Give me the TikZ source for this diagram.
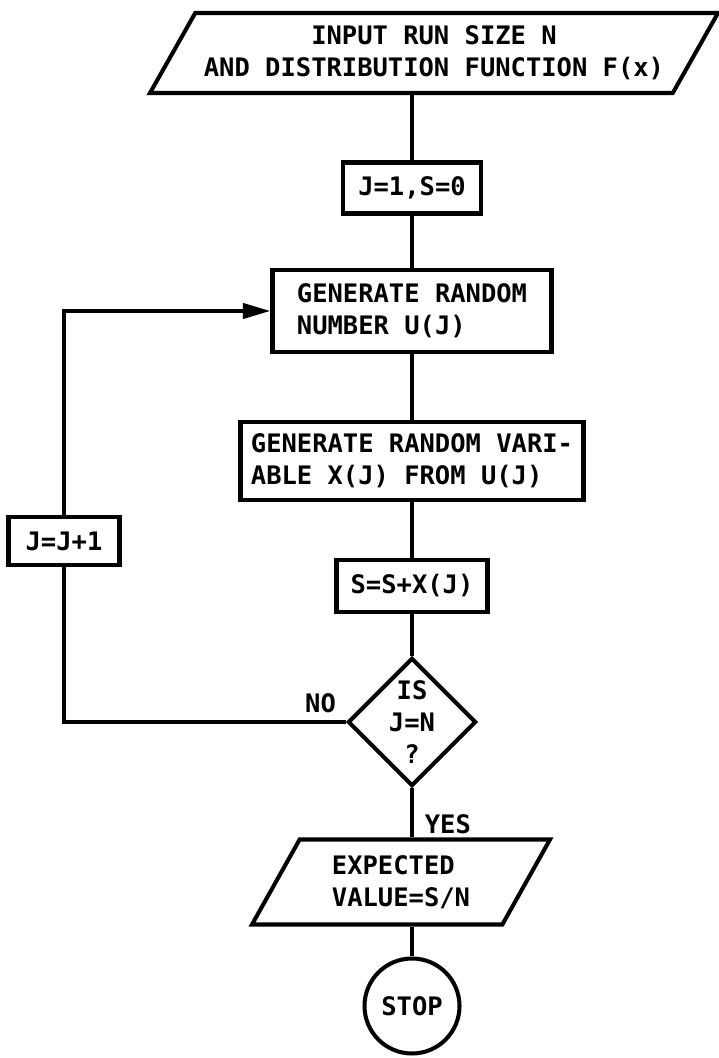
\documentclass[tikz,border=0pt]{standalone}
\usepackage{fontspec}
\setmainfont{DejaVu Sans Mono}
\usepackage{tikz}
\usetikzlibrary{positioning, arrows.meta, shapes.geometric}

\begin{document}
\begin{tikzpicture}[>={Triangle[length=5.5mm, width=3mm]}, line width=2.3pt,
    font=\fontsize{14.5}{18}\selectfont\bfseries,
    box/.style={draw, rectangle, inner sep=0pt, align=center},
    io/.style={draw, trapezium, trapezium stretches body, inner sep=0pt}]
    \useasboundingbox (0,0) rectangle (14.38,21.16);

    % Input
    \node[io, trapezium left angle=50, trapezium right angle=130, minimum width=11.36cm, minimum height=1.6cm, align=center] (inp) at (8.68,20.10) {INPUT RUN SIZE N\\AND DISTRIBUTION FUNCTION F(x)};

    % Main column
    \node[box, minimum width=2.76cm, minimum height=1.02cm] (init) at (8.24,17.40) {J=1,S=0};
    \node[box, minimum width=5.58cm, minimum height=1.64cm, align=left] (gen) at (8.24,14.94) {GENERATE RANDOM\\NUMBER U(J)};
    \node[box, minimum width=6.86cm, minimum height=1.56cm, align=left] (var) at (8.24,11.94) {GENERATE RANDOM VARI-\\ABLE X(J) FROM U(J)};
    \node[box, minimum width=3.02cm, minimum height=1.04cm] (sum) at (8.24,9.44) {S=S+X(J)};
    \node[draw, diamond, minimum width=2.4cm, minimum height=2.4cm, inner sep=0pt, align=center] (test) at (8.24,6.72) {IS\\J=N\\?};

    % Output and stop
    \node[io, trapezium left angle=48, trapezium right angle=132, minimum width=5.96cm, minimum height=1.7cm, align=left] (out) at (8.02,3.52) {EXPECTED\\VALUE=S/N};
    \node[draw, circle, minimum size=1.9cm, inner sep=0pt] (stop) at (8.24,1.04) {STOP};

    % Loop box
    \node[box, minimum width=2.22cm, minimum height=0.96cm] (inc) at (1.28,10.34) {J=J+1};

    \draw (inp.south -| init.north) -- (init.north);
    \draw (init) -- (gen);
    \draw (gen) -- (var);
    \draw (var) -- (sum);
    \draw (sum) -- (test);
    \draw (test.south) -- node[pos=0.74, right, xshift=0.1cm]{YES} (test.south |- out.north);
    \draw (out.south -| stop.north) -- (stop.north);

    \draw (test.west) -- node[pos=0.09, above, inner sep=4pt]{NO} (test.west -| inc.south) -- (inc.south);
    \draw[->] (inc.north) |- (gen.west);
\end{tikzpicture}
\end{document}
